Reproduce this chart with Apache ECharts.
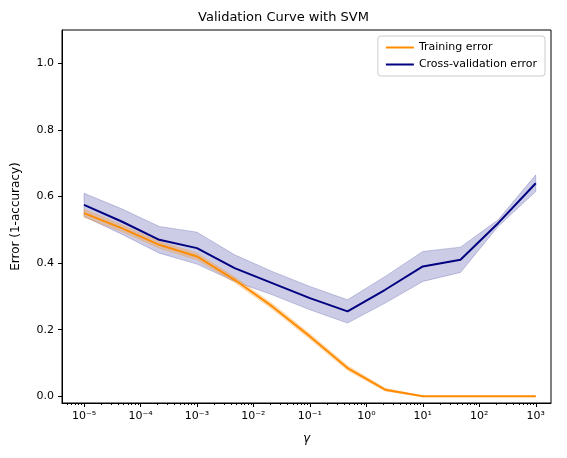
<!DOCTYPE html><html><head><meta charset="utf-8">
<script src="https://cdn.jsdelivr.net/npm/echarts@6/dist/echarts.min.js"></script>
<style>body{margin:0}#c{width:567px;height:458px}</style></head><body><div id="c"></div>
<script>
const gammaExp=[-5,-4.333,-3.667,-3,-2.333,-1.667,-1,-0.333,0.333,1,1.667,2.333,3];
const trainMean=[0.55,0.505,0.455,0.42,0.35,0.27,0.18,0.085,0.02,0.0,0.0,0.0,0.0];
const trainStd=[0.012,0.01,0.01,0.01,0.008,0.008,0.008,0.007,0.004,0.001,0.001,0.001,0.001];
const cvMean=[0.575,0.525,0.47,0.445,0.385,0.34,0.295,0.255,0.32,0.39,0.41,0.52,0.64];
const cvStd=[0.035,0.038,0.04,0.048,0.04,0.035,0.035,0.035,0.04,0.045,0.038,0.01,0.025];
const tickExp=[-5,-4,-3,-2,-1,0,1,2,3];
const sup={'-':'⁻','0':'⁰','1':'¹','2':'²','3':'³','4':'⁴','5':'⁵'};
const lab=v=>'10'+String(Math.round(v)).split('').map(c=>sup[c]).join('');
const minor=[];for(let d=-6;d<=3;d++)for(let k=2;k<=9;k++){const v=d+Math.log10(k);if(v>-5.39&&v<3.27)minor.push(v);}
const mn=m=>gammaExp.map((x,i)=>[x,m[i]]);
function band(m,s,stroke,fill){
 return {type:'custom',silent:true,z:2,data:[0],renderItem:(p,api)=>{
  const up=gammaExp.map((x,i)=>api.coord([x,m[i]+s[i]]));
  const dn=gammaExp.map((x,i)=>api.coord([x,m[i]-s[i]])).reverse();
  return {type:'polygon',shape:{points:up.concat(dn)},style:{fill,stroke,lineWidth:1}};
 }};
}
const ch=echarts.init(document.getElementById('c'));
ch.setOption({
 animation:false,
 title:{text:'Validation Curve with SVM',left:'center',top:6,textStyle:{fontFamily:'DejaVu Sans',fontSize:13,fontWeight:'normal',color:'#000'}},
 grid:{left:62,right:16,top:30,bottom:55,show:true,borderColor:'#000',borderWidth:1},
 legend:{top:36,right:22,orient:'vertical',itemWidth:28,itemHeight:2,borderColor:'#ccc',borderWidth:1,borderRadius:3,padding:[6,8],itemGap:6,
  data:[{name:'Training error',icon:'rect'},{name:'Cross-validation error',icon:'rect'}],
  textStyle:{fontFamily:'DejaVu Sans',fontSize:11,color:'#000'}},
 xAxis:[{type:'value',min:-5.39,max:3.27,name:'γ',nameLocation:'middle',nameGap:30,nameTextStyle:{fontFamily:'DejaVu Sans',fontStyle:'italic',fontSize:12,color:'#000'},
  splitLine:{show:false},axisLine:{onZero:false,lineStyle:{color:'#000'}},
  axisTick:{customValues:tickExp,length:4,lineStyle:{color:'#000'}},
  axisLabel:{customValues:tickExp,formatter:lab,color:'#000',fontFamily:'DejaVu Sans',fontSize:11}},
  {type:'value',min:-5.39,max:3.27,position:'bottom',splitLine:{show:false},axisLine:{show:false,onZero:false},
  axisTick:{customValues:minor,length:2,lineStyle:{color:'#000'}},axisLabel:{show:false}}],
 yAxis:{type:'value',min:-0.02,max:1.1,name:'Error (1-accuracy)',nameLocation:'middle',nameGap:40,nameTextStyle:{fontFamily:'DejaVu Sans',fontSize:12,color:'#000'},
  splitLine:{show:false},axisLine:{show:true,onZero:false,lineStyle:{color:'#000'}},
  axisTick:{customValues:[0,0.2,0.4,0.6,0.8,1.0],length:4,lineStyle:{color:'#000'}},
  axisLabel:{customValues:[0,0.2,0.4,0.6,0.8,1.0],formatter:v=>v.toFixed(1),color:'#000',fontFamily:'DejaVu Sans',fontSize:11}},
 series:[
  band(cvMean,cvStd,'rgba(0,0,128,0.2)','rgba(0,0,128,0.2)'),
  band(trainMean,trainStd,'rgba(255,140,0,0.25)','rgba(255,140,0,0.25)'),
  {type:'line',name:'Training error',data:mn(trainMean),symbol:'none',lineStyle:{width:2,color:'#ff8c00'},itemStyle:{color:'#ff8c00'},z:5},
  {type:'line',name:'Cross-validation error',data:mn(cvMean),symbol:'none',lineStyle:{width:2,color:'#000080'},itemStyle:{color:'#000080'},z:5}
 ]
});
</script></body></html>
